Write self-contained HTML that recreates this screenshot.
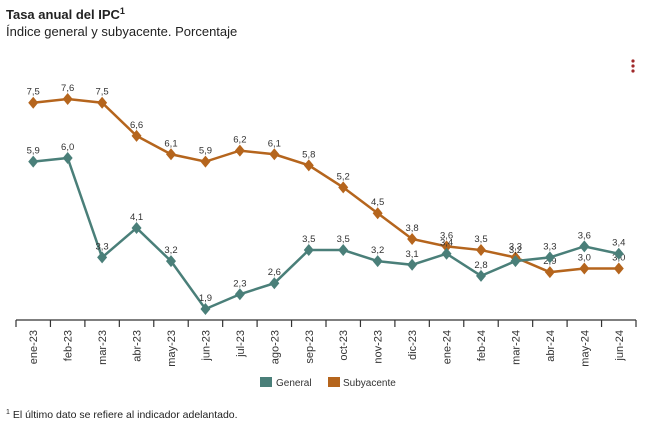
<!DOCTYPE html>
<html><head><meta charset="utf-8"><style>
body{margin:0;background:#fff;font-family:"Liberation Sans",Arial,sans-serif;}
#c{position:relative;width:652px;height:437px;overflow:hidden}
</style></head><body>
<div id="c">
<svg width="652" height="437" xmlns="http://www.w3.org/2000/svg" font-family="Liberation Sans, Arial, sans-serif">
<text x="6" y="19" font-size="13" font-weight="bold" fill="#222">Tasa anual del IPC<tspan font-size="9" dy="-5">1</tspan></text>
<text x="6" y="36" font-size="13" fill="#222">Índice general y subyacente. Porcentaje</text>
<g fill="#a0282a"><circle cx="633" cy="61" r="1.6"/><circle cx="633" cy="66" r="1.6"/><circle cx="633" cy="71" r="1.6"/></g>
<g id="plot"></g>
<g>
<g><rect x="260" y="377" width="12" height="10" fill="#4a7f79"/><text x="276" y="386" font-size="10" fill="#333">General</text></g>
<g><rect x="328" y="377" width="12" height="10" fill="#b5651d"/><text x="343" y="386" font-size="10" fill="#333">Subyacente</text></g>
</g>
<text x="6" y="418" font-size="10.5" fill="#222"><tspan font-size="7" dy="-4">1</tspan><tspan dy="4"> El último dato se refiere al indicador adelantado.</tspan></text>
</svg>
</div>
<script>
const categories=["ene-23","feb-23","mar-23","abr-23","may-23","jun-23","jul-23","ago-23","sep-23","oct-23","nov-23","dic-23","ene-24","feb-24","mar-24","abr-24","may-24","jun-24"];
const general=[5.9,6.0,3.3,4.1,3.2,1.9,2.3,2.6,3.5,3.5,3.2,3.1,3.4,2.8,3.2,3.3,3.6,3.4];
const subyacente=[7.5,7.6,7.5,6.6,6.1,5.9,6.2,6.1,5.8,5.2,4.5,3.8,3.6,3.5,3.3,2.9,3.0,3.0];
const NS="http://www.w3.org/2000/svg";
const g=document.getElementById('plot');
const x0=16,x1=636,base=320;
const step=(x1-x0)/categories.length;
function xs(i){return x0+step*(i+0.5);}
function ys(v){return 309-(v-1.9)*36.84;}
function mk(t,a,p){const e=document.createElementNS(NS,t);for(const k in a)e.setAttribute(k,a[k]);(p||g).appendChild(e);return e;}
const ax=mk('line',{x1:x0,x2:x1,y1:base,y2:base,stroke:'#555','stroke-width':1.5});


for(let i=0;i<=categories.length;i++){
  const t=mk('line',{x1:x0+step*i,x2:x0+step*i,y1:base,y2:base+7,stroke:'#333','stroke-width':1.2});
  
  
}
categories.forEach((c,i)=>{
  const t=mk('text',{x:0,y:0,'font-size':11,fill:'#333','text-anchor':'end',transform:`translate(${xs(i)+4},${base+10}) rotate(-90)`});
  t.textContent=c;
  
  
});
function series(vals,col,name){
  const pts=vals.map((v,i)=>xs(i)+','+ys(v)).join(' ');
  const l=mk('polyline',{points:pts,fill:'none',stroke:col,'stroke-width':2.5});
  
  
  vals.forEach((v,i)=>{
    const x=xs(i),y=ys(v);
    const d=mk('polygon',{points:`${x},${y-6} ${x+5},${y} ${x},${y+6} ${x-5},${y}`,fill:col});
    
    
    const t=mk('text',{x:x,y:y-8,'font-size':9.5,fill:'#333','text-anchor':'middle'});
    t.textContent=v.toFixed(1).replace('.',',');
    
    
  });
}
series(subyacente,'#b5651d','subyacente');
series(general,'#4a7f79','general');
</script>
</body></html>
